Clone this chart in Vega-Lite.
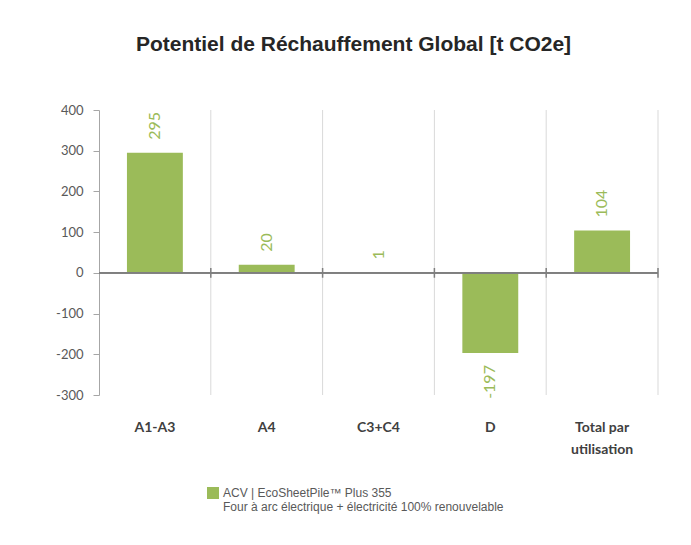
{
  "$schema": "https://vega.github.io/schema/vega-lite/v6.json",
  "width": 559,
  "height": 285,
  "autosize": {"type": "none"},
  "padding": {"left": 99, "top": 110, "right": 33, "bottom": 150},
  "background": "white",
  "title": {
    "text": "Potentiel de Réchauffement Global [t CO2e]",
    "font": "Liberation Sans",
    "fontSize": 21,
    "fontWeight": "bold",
    "color": "#262626",
    "anchor": "middle",
    "frame": "group",
    "baseline": "alphabetic",
    "offset": 32,
    "dx": -25
  },
  "config": {
    "view": {"stroke": null},
    "axis": {"labelFont": "Lato"}
  },
  "data": {
    "values": [
      {"etape": "A1-A3", "valeur": 295, "serie": "ACV | EcoSheetPile™ Plus 355"},
      {"etape": "A4", "valeur": 20, "serie": "ACV | EcoSheetPile™ Plus 355"},
      {"etape": "C3+C4", "valeur": 1, "serie": "ACV | EcoSheetPile™ Plus 355"},
      {"etape": "D", "valeur": -197, "serie": "ACV | EcoSheetPile™ Plus 355"},
      {"etape": "Total par utilisation", "valeur": 104, "serie": "ACV | EcoSheetPile™ Plus 355"}
    ]
  },
  "layer": [
    {
      "mark": {"type": "rule", "color": "#d9d9d9", "strokeWidth": 1},
      "encoding": {
        "x": {
          "field": "etape",
          "type": "nominal",
          "sort": null,
          "bandPosition": 1,
          "scale": {"paddingInner": 0, "paddingOuter": 0},
          "axis": {
            "title": null,
            "domain": false,
            "ticks": false,
            "tickSize": 0,
            "labelAngle": 0,
            "labelFontWeight": "bold",
            "labelFontSize": 14,
            "labelColor": "#404040",
            "labelPadding": 25,
            "labelBaseline": "top",
            "labelLineHeight": 22,
            "labelExpr": "datum.value == 'Total par utilisation' ? ['Total par', 'utilisation'] : datum.value"
          }
        }
      }
    },
    {
      "mark": {"type": "bar", "color": "#9bbb59", "width": {"band": 0.5}},
      "encoding": {
        "x": {"field": "etape", "type": "nominal", "sort": null},
        "y": {
          "field": "valeur",
          "type": "quantitative",
          "scale": {"domain": [-300, 400], "nice": false},
          "axis": {
            "title": null,
            "values": [-300, -200, -100, 0, 100, 200, 300, 400],
            "grid": false,
            "domainColor": "#a6a6a6",
            "tickColor": "#a6a6a6",
            "tickSize": 6,
            "labelPadding": 10,
            "labelFontSize": 13,
            "labelColor": "#595959",
            "labelExpr": "'' + datum.value"
          }
        },
        "color": {
          "field": "serie",
          "type": "nominal",
          "scale": {"range": ["#9bbb59"]},
          "legend": {
            "title": null,
            "orient": "none",
            "legendX": 108,
            "legendY": 377,
            "symbolType": "square",
            "symbolSize": 144,
            "symbolStrokeWidth": 0,
            "labelFont": "Liberation Sans",
            "labelFontSize": 12,
            "labelColor": "#595959",
            "labelLineHeight": 15,
            "labelLimit": 500,
            "labelExpr": "[datum.label, 'Four à arc électrique + électricité 100% renouvelable']"
          }
        }
      }
    },
    {
      "mark": {"type": "rule", "color": "#7f7f7f", "strokeWidth": 1.5},
      "encoding": {"y": {"datum": 0}}
    },
    {
      "mark": {"type": "rule", "color": "#7f7f7f", "strokeWidth": 1.5},
      "encoding": {
        "x": {"field": "etape", "type": "nominal", "sort": null, "bandPosition": 1},
        "y": {"datum": 12},
        "y2": {"datum": -12}
      }
    },
    {
      "transform": [{"filter": "datum.valeur >= 0"}],
      "mark": {"type": "text", "angle": 270, "align": "left", "baseline": "middle", "dx": 13, "font": "Lato", "fontSize": 16, "color": "#9bbb59"},
      "encoding": {
        "x": {"field": "etape", "type": "nominal", "sort": null},
        "y": {"field": "valeur", "type": "quantitative"},
        "text": {"field": "valeur", "type": "nominal"}
      }
    },
    {
      "transform": [{"filter": "datum.valeur < 0"}],
      "mark": {"type": "text", "angle": 270, "align": "right", "baseline": "middle", "dx": -12, "font": "Lato", "fontSize": 16, "color": "#9bbb59"},
      "encoding": {
        "x": {"field": "etape", "type": "nominal", "sort": null},
        "y": {"field": "valeur", "type": "quantitative"},
        "text": {"field": "valeur", "type": "nominal"}
      }
    }
  ]
}
